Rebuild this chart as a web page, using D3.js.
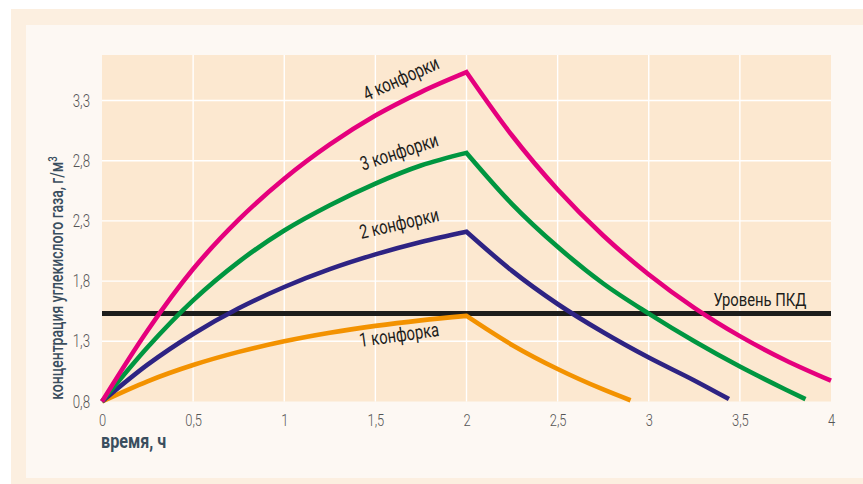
<!DOCTYPE html>
<html>
<head>
<meta charset="utf-8">
<script src="https://cdn.jsdelivr.net/npm/d3@7/dist/d3.min.js"></script>
<style>
  body { margin: 0; background: #ffffff; }
  text { font-family: Roboto, "Noto Sans", sans-serif; }
</style>
</head>
<body>
<svg id="chart" width="863" height="484"></svg>
<script>
// Time axis (hours) and concentration axis (g/m³)
const xTickValues = [0, 0.5, 1, 1.5, 2, 2.5, 3, 3.5, 4];
const yTickValues = [0.8, 1.3, 1.8, 2.3, 2.8, 3.3];

// Build-up while burners are on (0–2 h)
const riseTime = [0, 0.25, 0.5, 0.75, 1, 1.25, 1.5, 1.75, 2];
const rise1 = [0.8, 0.968, 1.103, 1.212, 1.30, 1.371, 1.428, 1.474, 1.511];
const rise2 = [0.8, 1.106, 1.361, 1.574, 1.751, 1.899, 2.022, 2.125, 2.21];
const rise3 = [0.8, 1.25, 1.64, 1.96, 2.22, 2.43, 2.61, 2.76, 2.865];
const rise4 = [0.8, 1.39, 1.90, 2.31, 2.65, 2.935, 3.175, 3.37, 3.535];

// Decay after the burners are switched off
const fallTime1 = [2, 2.25, 2.5, 2.75, 2.9];
const fall1 = [1.511, 1.27, 1.07, 0.90, 0.81];
const fallTime2 = [2, 2.25, 2.5, 2.75, 3, 3.25, 3.44];
const fall2 = [2.21, 1.885, 1.61, 1.375, 1.165, 0.975, 0.82];
const fallTime3 = [2, 2.25, 2.5, 2.75, 3, 3.25, 3.5, 3.75, 3.86];
const fall3 = [2.865, 2.44, 2.085, 1.78, 1.53, 1.30, 1.09, 0.90, 0.82];
const fallTime4 = [2, 2.25, 2.5, 2.75, 3, 3.25, 3.5, 3.75, 4];
const fall4 = [3.535, 3.009, 2.561, 2.179, 1.855, 1.578, 1.343, 1.143, 0.973];

// Permissible concentration level (ПКД)
const pkdLevel = 1.53;

const seriesNames = ["1 конфорка", "2 конфорки", "3 конфорки", "4 конфорки"];
const seriesColors = ["#f39200", "#2e2383", "#009640", "#e5007d"];

const series = [
  { name: seriesNames[0], color: seriesColors[0], rise: riseTime.map((t, i) => [t, rise1[i]]), fall: fallTime1.map((t, i) => [t, fall1[i]]), label: [1.63, 1.355, -8] },
  { name: seriesNames[1], color: seriesColors[1], rise: riseTime.map((t, i) => [t, rise2[i]]), fall: fallTime2.map((t, i) => [t, fall2[i]]), label: [1.63, 2.28, -13] },
  { name: seriesNames[2], color: seriesColors[2], rise: riseTime.map((t, i) => [t, rise3[i]]), fall: fallTime3.map((t, i) => [t, fall3[i]]), label: [1.63, 2.875, -18] },
  { name: seriesNames[3], color: seriesColors[3], rise: riseTime.map((t, i) => [t, rise4[i]]), fall: fallTime4.map((t, i) => [t, fall4[i]]), label: [1.64, 3.485, -24] }
];

// Horizontal squeeze that gives the condensed lettering
const NARROW = 0.76;

const svg = d3.select("#chart");
const W = 863, H = 484;

// Frame and inner panel
svg.append("rect").attr("x", 11).attr("y", 9).attr("width", W - 11).attr("height", H - 9).attr("fill", "#fcefe0");
svg.append("rect").attr("x", 26).attr("y", 25).attr("width", W - 26).attr("height", 453).attr("fill", "#fdf8f3");

const plot = { left: 102, right: 831, top: 55, bottom: 401.5 };

const x = d3.scaleLinear().domain([0, 4]).range([plot.left, plot.right]);
const y = d3.scaleLinear().domain([0.8, 3.3]).range([plot.bottom, 100.5]);

const ru = d3.formatLocale({ decimal: ",", thousands: " ", grouping: [3], currency: ["", " ₽"] });
const fmt = v => ru.format("~g")(v);

// Plot background
svg.append("rect")
  .attr("x", plot.left).attr("y", plot.top)
  .attr("width", plot.right - plot.left).attr("height", plot.bottom - plot.top)
  .attr("fill", "#fce8d0");

// Grid
const grid = svg.append("g").attr("stroke", "#ffffff").attr("stroke-width", 1.4);
grid.selectAll("line.v").data(xTickValues.filter(d => d > 0 && d < 4)).join("line")
  .attr("x1", d => x(d)).attr("x2", d => x(d))
  .attr("y1", plot.top).attr("y2", plot.bottom);
grid.selectAll("line.h").data(yTickValues.filter(d => d > 0.8)).join("line")
  .attr("x1", plot.left).attr("x2", plot.right)
  .attr("y1", d => y(d)).attr("y2", d => y(d));

// Axes (labels only, no domain or tick marks)
const xAxis = svg.append("g")
  .attr("transform", `translate(0,${plot.bottom})`)
  .call(d3.axisBottom(x).tickValues(xTickValues).tickFormat(fmt).tickSize(0).tickPadding(12));
xAxis.select(".domain").remove();
xAxis.selectAll("text")
  .attr("font-size", 17).attr("fill", "#555").attr("font-weight", 300)
  .attr("font-family", "Roboto, sans-serif")
  .attr("transform", `scale(${NARROW},1)`);

const yAxis = svg.append("g")
  .attr("transform", `translate(${plot.left},0)`)
  .call(d3.axisLeft(y).tickValues(yTickValues).tickFormat(fmt).tickSize(0));
yAxis.select(".domain").remove();
yAxis.selectAll("text")
  .attr("x", -12 / NARROW)
  .attr("font-size", 17.5).attr("fill", "#555").attr("font-weight", 300)
  .attr("font-family", "Roboto, sans-serif")
  .attr("transform", `scale(${NARROW},1)`);

// PKD level line
svg.append("line")
  .attr("x1", x(0)).attr("x2", x(4))
  .attr("y1", y(pkdLevel)).attr("y2", y(pkdLevel))
  .attr("stroke", "#1d1d1b").attr("stroke-width", 5);

svg.append("g")
  .attr("transform", `translate(${x(3.61)},${y(pkdLevel) - 8})`)
  .append("text")
  .attr("transform", "scale(0.8,1)")
  .attr("text-anchor", "middle").attr("font-size", 18.5).attr("fill", "#1d1d1b")
  .text("Уровень ПКД");

// Concentration curves: smooth build-up and decay joined at a sharp peak
const line = d3.line().x(d => x(d[0])).y(d => y(d[1])).curve(d3.curveMonotoneX);

svg.append("g").selectAll("path").data(series).join("path")
  .attr("d", s => line(s.rise) + line(s.fall).replace(/^M/, "L"))
  .attr("fill", "none")
  .attr("stroke", s => s.color)
  .attr("stroke-width", 4.6)
  .attr("stroke-linejoin", "miter")
  .attr("stroke-linecap", "butt");

// Curve labels
svg.append("g").selectAll("g").data(series).join("g")
  .attr("transform", s => `translate(${x(s.label[0])},${y(s.label[1])}) rotate(${s.label[2]})`)
  .append("text")
  .attr("transform", `scale(${NARROW},1)`)
  .attr("text-anchor", "middle").attr("dy", "0.35em")
  .attr("font-size", 19.5).attr("fill", "#1d1d1b")
  .text(s => s.name);

// Axis titles
svg.append("g")
  .attr("transform", `translate(${plot.left - 1},448)`)
  .append("text")
  .attr("transform", "scale(0.77,1)")
  .attr("font-size", 21).attr("font-weight", "bold").attr("fill", "#3a4e5e")
  .text("время, ч");

const yTitle = svg.append("g")
  .attr("transform", `translate(63,${(403 + 153) / 2}) rotate(-90)`)
  .append("text")
  .attr("transform", "scale(0.8,1)")
  .attr("text-anchor", "middle")
  .attr("font-size", 17.5).attr("font-weight", 500).attr("fill", "#3a4e5e");
yTitle.append("tspan").text("концентрация углекислого газа, г/м");
yTitle.append("tspan").attr("font-size", 12).attr("dy", -6).text("3");
</script>
</body>
</html>
